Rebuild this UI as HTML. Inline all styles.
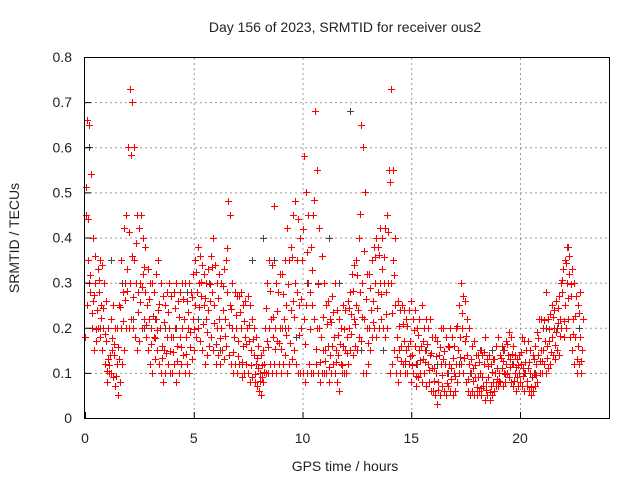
<!DOCTYPE html>
<html><head><meta charset="utf-8"><style>
body{margin:0;background:#fff}svg{display:block}
text{font-family:"Liberation Sans",sans-serif;font-size:14px;fill:#222}
</style></head><body>
<svg id="chart" width="640" height="480" xmlns="http://www.w3.org/2000/svg">
<text x="345" y="32" text-anchor="middle">Day 156 of 2023, SRMTID for receiver ous2</text>
<text transform="translate(19,238) rotate(-90)" text-anchor="middle">SRMTID / TECUs</text>
<text x="345" y="471" text-anchor="middle">GPS time / hours</text>
<g id="grid"></g><g id="gray"></g><g id="red"></g><g id="axes"></g>
<rect x="84.5" y="57.5" width="525" height="361" fill="none" stroke="#000"/>
</svg>
<script>
const xTicks=[0,5,10,15,20];
const yTicks=[0,0.1,0.2,0.3,0.4,0.5,0.6,0.7,0.8];
const yTickLabels=["0","0.1","0.2","0.3","0.4","0.5","0.6","0.7","0.8"];
const timeStep=0.1;
const redLo=[.18,.25,.3,.2,.15,.17,.2,.18,.15,.12,.08,.1,.1,.09,.07,.05,.08,.12,.15,.2,.2,.22,.2,.18,.15,.17,.2,.22,.18,.15,.12,.1,.13,.15,.12,.1,.08,.1,.12,.1,.1,.12,.08,.1,.12,.14,.1,.12,.1,.13,.15,.18,.2,.17,.15,.12,.14,.16,.18,.15,.12,.14,.12,.15,.13,.16,.14,.12,.1,.12,.1,.12,.09,.1,.12,.1,.08,.09,.08,.07,.06,.05,.08,.1,.1,.12,.1,.12,.1,.12,.1,.12,.14,.1,.12,.13,.15,.12,.1,.1,.1,.08,.1,.12,.1,.1,.12,.1,.08,.1,.1,.1,.08,.1,.12,.1,.08,.06,.1,.1,.1,.12,.15,.14,.16,.15,.18,.17,.1,.1,.12,.15,.18,.2,.18,.2,.22,.2,.18,.2,.1,.12,.15,.1,.08,.1,.12,.1,.1,.12,.08,.1,.07,.09,.1,.08,.1,.07,.08,.06,.06,.05,.03,.05,.07,.06,.05,.07,.06,.05,.06,.08,.1,.12,.1,.08,.06,.05,.06,.05,.05,.06,.05,.07,.04,.05,.04,.05,.06,.07,.07,.08,.07,.08,.1,.09,.08,.07,.06,.07,.08,.07,.06,.07,.06,.05,.06,.07,.08,.1,.1,.12,.1,.11,.12,.14,.13,.15,.14,.2,.18,.2,.22,.18,.15,.12,.1,.12,.1];
const redExtra=[.512,.441,.318,.233,.272,.198,.305,.221,.243,.186,.105,.118,.177,.163,.094,.158,.245,.214,.262,.281,.412,.583,.268,.387,.236,.258,.291,.334,.207,.263,.163,.226,.177,.196,.253,.134,.212,.143,.234,.148,.147,.243,.127,.224,.158,.263,.142,.236,.157,.268,.197,.323,.246,.301,.208,.267,.191,.297,.334,.211,.163,.266,.177,.292,.181,.376,.207,.241,.146,.228,.138,.236,.123,.214,.163,.207,.118,.176,.097,.134,.083,.117,.102,.244,.157,.281,.223,.154,.238,.166,.153,.274,.183,.297,.167,.356,.224,.351,.183,.264,.418,.163,.367,.198,.327,.483,.152,.296,.124,.224,.127,.208,.112,.213,.236,.124,.183,.163,.118,.197,.143,.243,.186,.281,.208,.316,.453,.223,.371,.263,.166,.287,.213,.357,.243,.362,.274,.356,.231,.413,.523,.232,.318,.136,.203,.127,.208,.126,.203,.138,.117,.196,.093,.183,.128,.171,.124,.163,.107,.143,.083,.138,.061,.157,.096,.148,.077,.157,.087,.133,.093,.203,.136,.233,.134,.182,.087,.131,.083,.117,.068,.123,.067,.147,.061,.116,.057,.103,.131,.086,.083,.134,.126,.098,.163,.112,.141,.083,.112,.117,.146,.093,.124,.083,.123,.068,.131,.096,.178,.127,.126,.218,.132,.197,.147,.223,.161,.243,.181,.306,.216,.343,.267,.298,.187,.227,.131,.233,.127];
const redMid=[.45,.35,.28,.26,.3,.24,.28,.25,.2,.17,.13,.14,.15,.14,.12,.13,.2,.28,.3,.33,.3,.36,.35,.3,.28,.3,.32,.28,.25,.22,.2,.18,.22,.24,.2,.16,.15,.18,.2,.18,.18,.2,.16,.18,.2,.22,.18,.2,.19,.22,.25,.28,.3,.27,.25,.22,.24,.26,.28,.25,.2,.22,.2,.24,.22,.28,.25,.2,.18,.2,.17,.2,.16,.18,.2,.17,.15,.14,.12,.11,.1,.09,.12,.17,.2,.22,.18,.2,.17,.2,.2,.22,.25,.2,.24,.26,.3,.28,.25,.2,.22,.25,.3,.28,.25,.22,.2,.2,.18,.15,.15,.16,.14,.16,.18,.15,.14,.12,.16,.15,.18,.2,.23,.22,.25,.24,.28,.3,.22,.2,.2,.24,.26,.3,.28,.3,.33,.3,.28,.3,.3,.35,.25,.18,.15,.16,.17,.15,.16,.17,.14,.16,.12,.15,.16,.13,.15,.12,.14,.11,.11,.1,.08,.12,.13,.12,.1,.12,.11,.1,.12,.15,.18,.2,.17,.14,.12,.1,.11,.09,.09,.1,.09,.12,.08,.09,.07,.08,.1,.11,.1,.11,.1,.12,.14,.13,.12,.1,.09,.1,.12,.11,.1,.11,.1,.09,.1,.12,.14,.15,.15,.17,.16,.17,.18,.2,.19,.21,.22,.28,.25,.3,.32,.27,.22,.18,.16,.18,.15];
const redHi=[.66,.65,.54,.4,.36,.33,.35,.34,.3,.26,.2,.22,.25,.2,.2,.25,.35,.42,.45,.6,.73,.7,.6,.45,.42,.45,.4,.38,.33,.3,.3,.28,.32,.35,.3,.27,.25,.28,.3,.27,.28,.3,.26,.28,.3,.3,.26,.3,.28,.32,.35,.38,.36,.34,.32,.3,.33,.36,.4,.34,.3,.32,.3,.33,.35,.48,.45,.3,.28,.27,.27,.28,.25,.26,.27,.25,.22,.2,.18,.16,.14,.15,.2,.3,.35,.34,.47,.3,.28,.32,.32,.35,.42,.35,.38,.45,.48,.44,.4,.35,.58,.5,.45,.38,.45,.68,.55,.42,.36,.3,.25,.26,.22,.27,.3,.24,.22,.2,.25,.24,.26,.28,.32,.34,.35,.4,.65,.6,.5,.32,.32,.35,.38,.4,.38,.42,.4,.42,.45,.55,.73,.55,.4,.26,.24,.25,.24,.22,.24,.26,.22,.24,.2,.22,.25,.2,.22,.2,.22,.18,.18,.17,.14,.2,.2,.18,.16,.2,.18,.16,.2,.25,.3,.27,.26,.22,.2,.16,.17,.14,.14,.15,.14,.18,.13,.14,.12,.13,.16,.18,.14,.16,.15,.17,.19,.18,.16,.14,.13,.14,.18,.17,.15,.17,.15,.14,.16,.19,.22,.22,.2,.28,.22,.23,.25,.24,.26,.27,.3,.33,.35,.38,.36,.33,.3,.27,.25,.28,.22];
const grayStep=0.5;
const grayVals=[.6,.2,.35,.3,.22,.2,.22,.2,.2,.28,.22,.3,.15,.12,.12,.35,.4,.35,.2,.18,.3,.3,.4,.3,.68,.15,.18,.15,.15,.12,.12,.15,.12,.1,.12,.1,.15,.15,.15,.12,.1,.1,.2,.2,.38,.2];
const X=t=>85+t*21.75, Y=v=>418-v*451.25;
const NS="http://www.w3.org/2000/svg";
const mk=(tag,attrs,parent)=>{const e=document.createElementNS(NS,tag);for(const k in attrs)e.setAttribute(k,attrs[k]);document.getElementById(parent).appendChild(e);return e;};
yTicks.forEach((v,i)=>{
  if(v>0&&v<0.8){const g=mk('line',{x1:85,x2:609,y1:Y(v)+.5,y2:Y(v)+.5,stroke:'#999','stroke-dasharray':'2,3'},'grid');
  
  }
  const tk=mk('line',{x1:85,x2:91,y1:Y(v)+.5,y2:Y(v)+.5,stroke:'#000'},'axes');
  
  
  const tx=mk('text',{x:72,y:Y(v)+5,'text-anchor':'end'},'axes');tx.textContent=yTickLabels[i];
  
  
});
xTicks.forEach(t=>{
  if(t>0){const g=mk('line',{x1:X(t)+.5,x2:X(t)+.5,y1:58,y2:418,stroke:'#999','stroke-dasharray':'2,3'},'grid');
  
  }
  const tk=mk('line',{x1:X(t)+.5,x2:X(t)+.5,y1:418,y2:412,stroke:'#000'},'axes');
  
  
  const tx=mk('text',{x:X(t),y:443,'text-anchor':'middle'},'axes');tx.textContent=String(t);
  
  
});
function plus(t,v,col,parent){
  const x=Math.round(X(t))+.5,y=Math.round(Y(v))+.5;
  const p=mk('path',{d:`M${x-3.5} ${y}H${x+3.5}M${x} ${y-3.5}V${y+3.5}`,stroke:col,'stroke-width':1,fill:'none'},parent);
  
  
}
grayVals.forEach((v,i)=>plus(i*grayStep+0.2,v,'#444','gray'));
redLo.forEach((v,i)=>plus(i*timeStep,v,'#f00','red'));
redExtra.forEach((v,i)=>plus(i*timeStep+0.025,v,'#f00','red'));
redMid.forEach((v,i)=>plus(i*timeStep+0.05,v,'#f00','red'));
redHi.forEach((v,i)=>plus(i*timeStep+0.075,v,'#f00','red'));
</script>
</body></html>
